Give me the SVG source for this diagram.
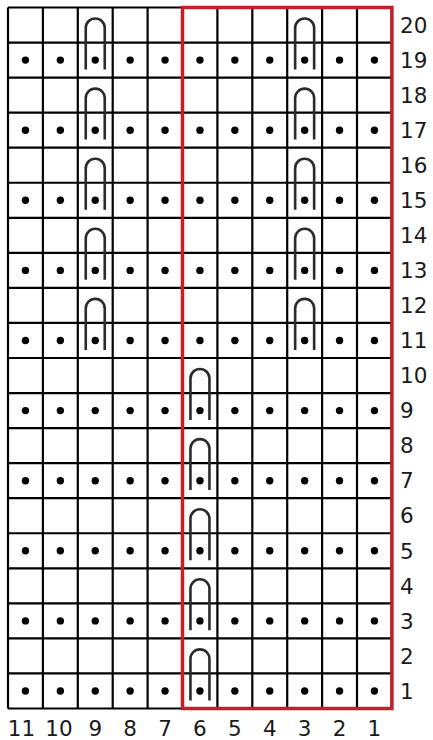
<svg xmlns="http://www.w3.org/2000/svg" xmlns:xlink="http://www.w3.org/1999/xlink" width="433" height="740" viewBox="0 0 433 740">
<style>
.grid{stroke:#000;stroke-width:2.2;fill:none}
.dot{fill:#000}
.slip{stroke:#2b2b2b;stroke-width:2.6;fill:none}
.hl{stroke:#c41e2a;stroke-width:3.5;fill:none}
.lbl{font-family:"DejaVu Sans",Verdana,sans-serif;font-size:21.5px;fill:#1a1a1a}
.cl{text-anchor:middle}
</style>
<defs>
<path id="sl" class="slip" d="M-9.5,62 V20.5 A9.5,9.5 0 0 1 9.5,20.5 V62"/>
<circle id="d" class="dot" r="3.7"/>
</defs>
<rect width="433" height="740" fill="#fff"/>
<g id="grid">
<path class="grid" d="M8,7.5H391.9M8,42.55H391.9M8,77.6H391.9M8,112.65H391.9M8,147.7H391.9M8,182.75H391.9M8,217.8H391.9M8,252.85H391.9M8,287.9H391.9M8,322.95H391.9M8,358H391.9M8,393.05H391.9M8,428.1H391.9M8,463.15H391.9M8,498.2H391.9M8,533.25H391.9M8,568.3H391.9M8,603.35H391.9M8,638.4H391.9M8,673.45H391.9M8,708.5H391.9"/>
<path class="grid" d="M8,7.5V708.5M42.9,7.5V708.5M77.8,7.5V708.5M112.7,7.5V708.5M147.6,7.5V708.5M182.5,7.5V708.5M217.4,7.5V708.5M252.3,7.5V708.5M287.2,7.5V708.5M322.1,7.5V708.5M357,7.5V708.5M391.9,7.5V708.5"/>
</g>
<g id="dots">
<g id="r19"><use xlink:href="#d" x="25.45" y="60.08"/><use xlink:href="#d" x="60.35" y="60.08"/><use xlink:href="#d" x="95.25" y="60.08"/><use xlink:href="#d" x="130.15" y="60.08"/><use xlink:href="#d" x="165.05" y="60.08"/><use xlink:href="#d" x="199.95" y="60.08"/><use xlink:href="#d" x="234.85" y="60.08"/><use xlink:href="#d" x="269.75" y="60.08"/><use xlink:href="#d" x="304.65" y="60.08"/><use xlink:href="#d" x="339.55" y="60.08"/><use xlink:href="#d" x="374.45" y="60.08"/></g>
<use xlink:href="#r19" y="70.1"/>
<use xlink:href="#r19" y="140.2"/>
<use xlink:href="#r19" y="210.3"/>
<use xlink:href="#r19" y="280.4"/>
<use xlink:href="#r19" y="350.5"/>
<use xlink:href="#r19" y="420.6"/>
<use xlink:href="#r19" y="490.7"/>
<use xlink:href="#r19" y="560.8"/>
<use xlink:href="#r19" y="630.9"/>
</g>
<g id="slips">
<use xlink:href="#sl" x="95.25" y="7.5"/><use xlink:href="#sl" x="304.65" y="7.5"/>
<use xlink:href="#sl" x="95.25" y="77.6"/><use xlink:href="#sl" x="304.65" y="77.6"/>
<use xlink:href="#sl" x="95.25" y="147.7"/><use xlink:href="#sl" x="304.65" y="147.7"/>
<use xlink:href="#sl" x="95.25" y="217.8"/><use xlink:href="#sl" x="304.65" y="217.8"/>
<use xlink:href="#sl" x="95.25" y="287.9"/><use xlink:href="#sl" x="304.65" y="287.9"/>
<use xlink:href="#sl" x="199.95" y="358"/>
<use xlink:href="#sl" x="199.95" y="428.1"/>
<use xlink:href="#sl" x="199.95" y="498.2"/>
<use xlink:href="#sl" x="199.95" y="568.3"/>
<use xlink:href="#sl" x="199.95" y="638.4"/>
</g>
<g id="repeat">
<rect class="hl" x="182.5" y="7.5" width="209.4" height="701"/>
</g>
<g id="rowlabels" class="lbl">
<text x="400" y="32.7">20</text>
<text x="400" y="67.8">19</text>
<text x="400" y="102.8">18</text>
<text x="400" y="137.9">17</text>
<text x="400" y="172.9">16</text>
<text x="400" y="208">15</text>
<text x="400" y="243">14</text>
<text x="400" y="278.1">13</text>
<text x="400" y="313.1">12</text>
<text x="400" y="348.2">11</text>
<text x="400" y="383.2">10</text>
<text x="400" y="418.3">9</text>
<text x="400" y="453.3">8</text>
<text x="400" y="488.4">7</text>
<text x="400" y="523.4">6</text>
<text x="400" y="558.5">5</text>
<text x="400" y="593.5">4</text>
<text x="400" y="628.6">3</text>
<text x="400" y="663.6">2</text>
<text x="400" y="698.7">1</text>
</g>
<g id="collabels" class="lbl cl">
<text x="21.5" y="736">11</text>
<text x="59" y="736">10</text>
<text x="95.25" y="736">9</text>
<text x="130.15" y="736">8</text>
<text x="165.05" y="736">7</text>
<text x="199.95" y="736">6</text>
<text x="234.85" y="736">5</text>
<text x="269.75" y="736">4</text>
<text x="304.65" y="736">3</text>
<text x="339.55" y="736">2</text>
<text x="374.45" y="736">1</text>
</g>
</svg>
